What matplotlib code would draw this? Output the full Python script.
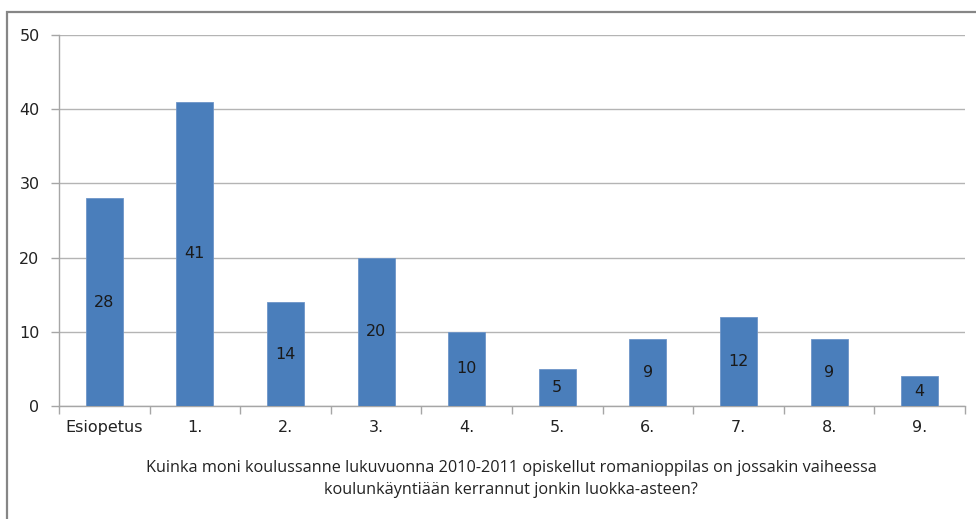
import matplotlib.pyplot as plt
import numpy as np
from matplotlib.patches import Rectangle
from matplotlib.ticker import FixedLocator

categories = ["Esiopetus", "1.", "2.", "3.", "4.", "5.", "6.", "7.", "8.", "9."]
values = [28, 41, 14, 20, 10, 5, 9, 12, 9, 4]
xlabel = ("Kuinka moni koulussanne lukuvuonna 2010-2011 opiskellut romanioppilas on jossakin vaiheessa\n"
          "koulunkäyntiään kerrannut jonkin luokka-asteen?")

axis_gray = "#A6A6A6"
bar_color = "#4A7EBB"

fig = plt.figure(figsize=(9.76, 5.19), dpi=100)
ax = fig.add_axes([59 / 976, 1 - 406 / 519, (965 - 59) / 976, (406 - 35) / 519])

# outer chart frame (only left and top visible in the crop)
fig.patches.append(Rectangle((7 / 976, -0.1), 1.2, 1 - 12 / 519 + 0.1,
                             transform=fig.transFigure, fill=False,
                             edgecolor="#868686", linewidth=1.6))

x = np.arange(len(categories))
bars = ax.bar(x, values, width=0.41, color=bar_color, edgecolor="#6E95C8",
              linewidth=0.6, zorder=3)
for b, v in zip(bars, values):
    ax.text(b.get_x() + b.get_width() / 2, v / 2, str(v), ha="center", va="center",
            fontsize=11.5, color="#1A1A1A", zorder=4)

ax.set_xlim(-0.5, len(categories) - 0.5)
ax.set_ylim(0, 50)
ax.set_yticks(range(0, 51, 10))
ax.set_xticks(x)
ax.set_xticklabels(categories)
ax.xaxis.set_minor_locator(FixedLocator(np.arange(-0.5, len(categories), 1)))
ax.tick_params(axis="x", which="major", length=0, pad=10, labelsize=11.5, labelcolor="#222222")
ax.tick_params(axis="x", which="minor", length=6, color=axis_gray, width=1)
ax.tick_params(axis="y", length=6, color=axis_gray, width=1, pad=8, labelsize=11.5,
               labelcolor="#222222")

ax.grid(axis="y", color="#B4B4B4", linewidth=1, zorder=0)
for s in ["top", "right"]:
    ax.spines[s].set_visible(False)
for s in ["left", "bottom"]:
    ax.spines[s].set_color(axis_gray)
    ax.spines[s].set_linewidth(1)
ax.spines["left"].set_zorder(5)

fig.text(511 / 976, 1 - 479 / 519, xlabel, ha="center", va="center", fontsize=11.7,
         family="Open Sans", color="#222222", linespacing=1.45)

fig.savefig("out.png", dpi=100)
